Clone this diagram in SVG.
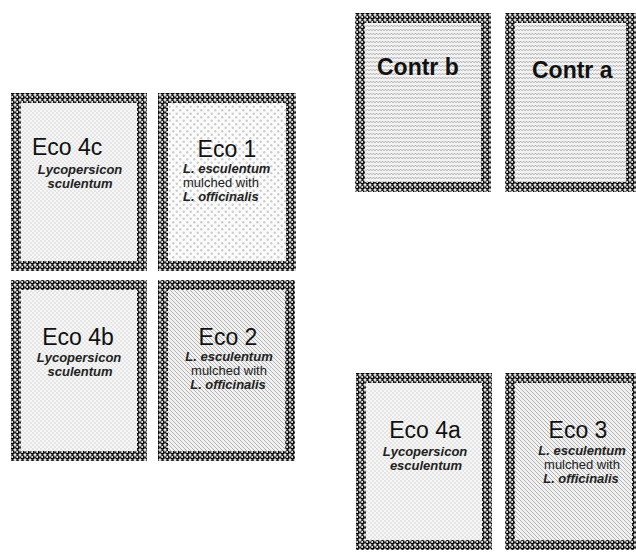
<svg xmlns="http://www.w3.org/2000/svg" width="636" height="552" viewBox="0 0 636 552">
<defs>
<pattern id="chain" width="5" height="5" patternUnits="userSpaceOnUse">
<rect width="5" height="5" fill="#fff"/>
<circle cx="2.5" cy="2.5" r="2.4" fill="#0a0a0a"/>
<circle cx="2.1" cy="2.1" r="1" fill="#fff"/>
</pattern>
<pattern id="fine" width="4" height="4" patternUnits="userSpaceOnUse">
<rect width="4" height="4" fill="#f7f7f7"/>
<circle cx="1" cy="1" r="0.8" fill="#cfcfcf"/>
<circle cx="3" cy="3" r="0.8" fill="#cfcfcf"/>
</pattern>
<pattern id="sparse" width="7" height="7" patternUnits="userSpaceOnUse">
<rect width="7" height="7" fill="#fbfbfb"/>
<circle cx="1.75" cy="1.75" r="1.2" fill="#cdcdcd"/>
<circle cx="5.25" cy="5.25" r="1.2" fill="#cdcdcd"/>
</pattern>
<pattern id="hatch" width="4" height="4" patternUnits="userSpaceOnUse">
<rect width="4" height="4" fill="#f2f2f2"/>
<path d="M-1,-1 L5,5 M-1,3 L1,5 M3,-1 L5,1" stroke="#a8a8a8" stroke-width="0.9"/>
</pattern>
<pattern id="wave" width="6" height="4" patternUnits="userSpaceOnUse">
<rect width="6" height="4" fill="#f2f2f2"/>
<path d="M0,2.8 L1.5,1.2 L3,2.8 L4.5,1.2 L6,2.8" fill="none" stroke="#a0a0a0" stroke-width="0.9"/>
</pattern>
</defs>
<style>
.frame{fill:url(#chain)}
.t{font-family:"Liberation Sans",Arial,sans-serif;font-size:23px;fill:#111}
.tb{font-family:"Liberation Sans",Arial,sans-serif;font-size:23px;font-weight:bold;fill:#111}
.sp{font-family:"Liberation Sans",Arial,sans-serif;font-size:13px;font-weight:bold;font-style:italic;fill:#222}
.m{font-family:"Liberation Sans",Arial,sans-serif;font-size:13px;fill:#222}
.c{text-anchor:middle}
</style>
<rect width="636" height="552" fill="#fff"/>
<g id="connectors"/>
<g id="eco4c">
<rect class="frame" x="11" y="93" width="136" height="178"/>
<rect x="21" y="103" width="116" height="158" fill="url(#fine)"/>
<text class="t" x="32" y="155">Eco 4c</text>
<text class="sp c" x="80" y="174">Lycopersicon</text>
<text class="sp c" x="80" y="188">sculentum</text>
</g>
<g id="eco1">
<rect class="frame" x="158" y="93" width="138" height="178"/>
<rect x="168" y="103" width="118" height="158" fill="url(#sparse)"/>
<text class="t c" x="227" y="157">Eco 1</text>
<text class="sp" x="183" y="173">L. esculentum</text>
<text class="m" x="183" y="187">mulched with</text>
<text class="sp" x="183" y="201">L. officinalis</text>
</g>
<g id="eco4b">
<rect class="frame" x="11" y="280" width="136" height="181"/>
<rect x="21" y="290" width="116" height="161" fill="url(#fine)"/>
<text class="t c" x="78" y="345">Eco 4b</text>
<text class="sp c" x="79" y="362">Lycopersicon</text>
<text class="sp c" x="80" y="376">sculentum</text>
</g>
<g id="eco2">
<rect class="frame" x="158" y="280" width="137" height="181"/>
<rect x="168" y="290" width="117" height="161" fill="url(#hatch)"/>
<text class="t c" x="228" y="345">Eco 2</text>
<text class="sp c" x="229" y="361">L. esculentum</text>
<text class="m c" x="229" y="375">mulched with</text>
<text class="sp c" x="228" y="389">L. officinalis</text>
</g>
<g id="contrb">
<rect class="frame" x="355" y="13" width="136" height="179"/>
<rect x="365" y="23" width="116" height="159" fill="url(#wave)"/>
<text class="tb" x="377" y="75">Contr b</text>
</g>
<g id="contra">
<rect class="frame" x="505" y="13" width="131" height="179"/>
<rect x="515" y="23" width="111" height="159" fill="url(#wave)"/>
<text class="tb" x="532" y="78">Contr a</text>
</g>
<g id="eco4a">
<rect class="frame" x="356" y="373" width="136" height="177"/>
<rect x="366" y="383" width="116" height="157" fill="url(#fine)"/>
<text class="t c" x="425" y="438">Eco 4a</text>
<text class="sp c" x="425" y="456">Lycopersicon</text>
<text class="sp c" x="426" y="470">esculentum</text>
</g>
<g id="eco3">
<rect class="frame" x="505" y="373" width="137" height="177"/>
<rect x="515" y="383" width="117" height="157" fill="url(#hatch)"/>
<text class="t c" x="578" y="438">Eco 3</text>
<text class="sp c" x="582" y="455">L. esculentum</text>
<text class="m c" x="582" y="469">mulched with</text>
<text class="sp c" x="581" y="483">L. officinalis</text>
</g>
</svg>
